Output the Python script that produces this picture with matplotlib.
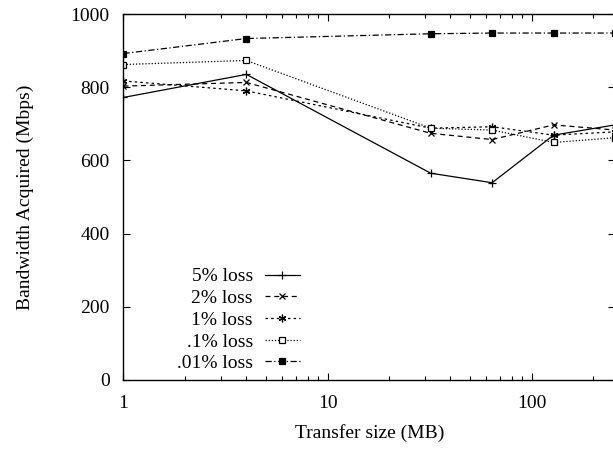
import matplotlib
matplotlib.use('Agg')
import matplotlib.pyplot as plt
from matplotlib.ticker import LogLocator, NullFormatter, FixedLocator, FixedFormatter

plt.rcParams['font.family'] = ['Liberation Serif', 'DejaVu Serif']
plt.rcParams['font.size'] = 14

sizes = [1, 4, 32, 64, 128, 256]
loss5 = [772, 835, 565, 539, 669, 697]
loss2 = [803, 813, 674, 657, 697, 683]
loss1 = [817, 790, 688, 692, 669, 678]
loss01 = [862, 873, 688, 683, 649, 662]
loss001 = [892, 933, 946, 948, 948, 948]
labels = ['5% loss', '2% loss', '1% loss', '.1% loss', '.01% loss']

fig = plt.figure(figsize=(6.13, 4.49), dpi=100)
ax = fig.add_axes([123.5 / 613, (449 - 380) / 449, (615 - 123.5) / 613, 366 / 449])

lw = 0.9
ax.plot(sizes, loss5, color='black', lw=lw, ls='-', marker='+', ms=6, mew=0.9, label=labels[0])
ax.plot(sizes, loss2, color='black', lw=lw, ls=(0, (4, 3)), marker='x', ms=4.5, mew=0.9, label=labels[1])
ax.plot(sizes, loss1, color='black', lw=lw, ls=(0, (2, 2.5)), marker=(6, 2, 0), ms=5.5, mew=0.9, label=labels[2])
ax.plot(sizes, loss01, color='black', lw=lw, ls=(0, (1, 1.5)), marker='s', ms=4.5, mfc='white', mew=0.9, label=labels[3])
ax.plot(sizes, loss001, color='black', lw=lw, ls=(0, (5, 2, 1, 2)), marker='s', ms=4.5, mfc='black', mew=0.9, label=labels[4])

ax.set_xscale('log')
ax.set_xlim(1, 256)
ax.set_ylim(0, 1000)
ax.xaxis.set_major_locator(FixedLocator([1, 10, 100]))
ax.xaxis.set_major_formatter(FixedFormatter(['1', '10', '100']))
ax.xaxis.set_minor_locator(LogLocator(base=10, subs=range(2, 10)))
ax.xaxis.set_minor_formatter(NullFormatter())
ax.set_yticks(range(0, 1001, 200))

ax.tick_params(which='both', direction='in', top=True, right=True, width=0.8)
ax.tick_params(which='major', length=5)
ax.tick_params(which='minor', length=3)
ax.tick_params(axis='x', which='major', pad=10.5)
ax.tick_params(axis='y', which='major', pad=10)
for s in ax.spines.values():
    s.set_linewidth(1.0)

ax.set_xlabel('Transfer size (MB)', labelpad=9)
ax.set_ylabel('Bandwidth Acquired (Mbps)', labelpad=26)

ax.legend(loc='lower left', bbox_to_anchor=(0.093, 0.0), markerfirst=False, frameon=False,
          handlelength=1.8, handletextpad=0.6, labelspacing=0.21, borderaxespad=0.0)

fig.savefig('out.png', dpi=100)
